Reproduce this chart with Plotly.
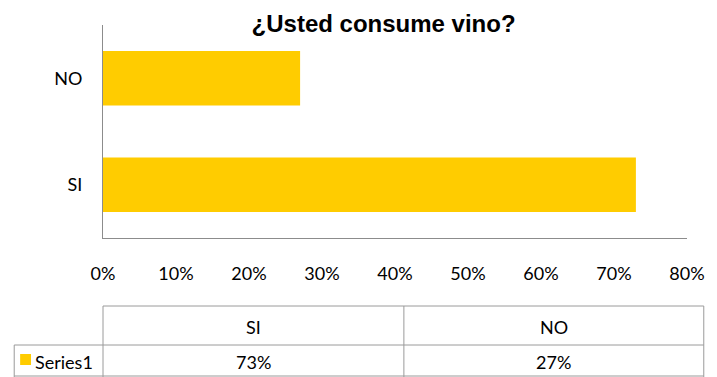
import plotly.graph_objects as go

categories = ["SI", "NO"]
values = [0.73, 0.27]
series_name = "Series1"
title = "¿Usted consume vino?"

W, H = 717, 377
L, R, T, B = 103, 22, 25, 139
pw, ph = W - L - R, H - T - B

def px(x):
    return (x - L) / pw

def py(y):
    return (H - B - y) / ph

bar_color = "#FFCC00"
grid_color = "#8C8C8C"
tbl_color = "#9A9A9A"
font_main = "Lato, Arial"

fig = go.Figure()
fig.add_trace(go.Bar(
    y=categories, x=values, orientation="h",
    marker=dict(color=bar_color, line=dict(width=0)),
    name=series_name, showlegend=False,
))

fig.update_layout(
    width=W, height=H,
    margin=dict(l=L, r=R, t=T, b=B, pad=0),
    paper_bgcolor="white", plot_bgcolor="white",
    bargap=0.49,
    font=dict(family=font_main, size=18, color="black"),
    title=dict(text="<b>" + title + "</b>", x=0.535, xanchor="center",
               y=1 - 24 / H, yanchor="middle",
               font=dict(family="Liberation Sans, Arial", size=24, color="black")),
)
fig.update_xaxes(
    range=[0, 0.8], dtick=0.1, tickformat=".0%",
    showgrid=False, zeroline=False,
    showline=True, linecolor=grid_color, linewidth=1,
    ticks="", ticklabelstandoff=19,
    tickfont=dict(family=font_main, size=18, color="black"),
    fixedrange=True,
)
fig.update_yaxes(
    categoryorder="array", categoryarray=categories,
    showgrid=False, zeroline=False,
    showline=True, linecolor=grid_color, linewidth=1,
    ticks="", ticklabelstandoff=16,
    tickfont=dict(family=font_main, size=18, color="black"),
    fixedrange=True,
)

shapes = []
def line(x0, y0, x1, y1):
    shapes.append(dict(type="line", xref="paper", yref="paper",
                       x0=px(x0), y0=py(y0), x1=px(x1), y1=py(y1),
                       line=dict(color=tbl_color, width=1)))

col_edges = [103, 408, 712]
line(103, 306, 712, 306)
line(13, 345, 712, 345)
line(13, 376, 712, 376)
for cx in col_edges:
    line(cx, 306, cx, 377)
line(13, 345, 13, 377)

# legend key
shapes.append(dict(type="rect", xref="paper", yref="paper",
                   x0=px(19), x1=px(30), y0=py(365), y1=py(354),
                   fillcolor=bar_color, line=dict(width=0)))
fig.update_layout(shapes=shapes)

ann = []
def text(x, y, s, anchor="center"):
    ann.append(dict(x=px(x), y=py(y), xref="paper", yref="paper", text=s,
                    showarrow=False, xanchor=anchor, yanchor="middle",
                    font=dict(family=font_main, size=18, color="black")))

for i, c in enumerate(categories):
    cx = (col_edges[i] + col_edges[i + 1]) / 2
    text(cx, 327, c)
    text(cx, 362, f"{round(values[i] * 100)}%")
text(32, 362, series_name, anchor="left")
fig.update_layout(annotations=ann)

fig.write_html("out.html")
